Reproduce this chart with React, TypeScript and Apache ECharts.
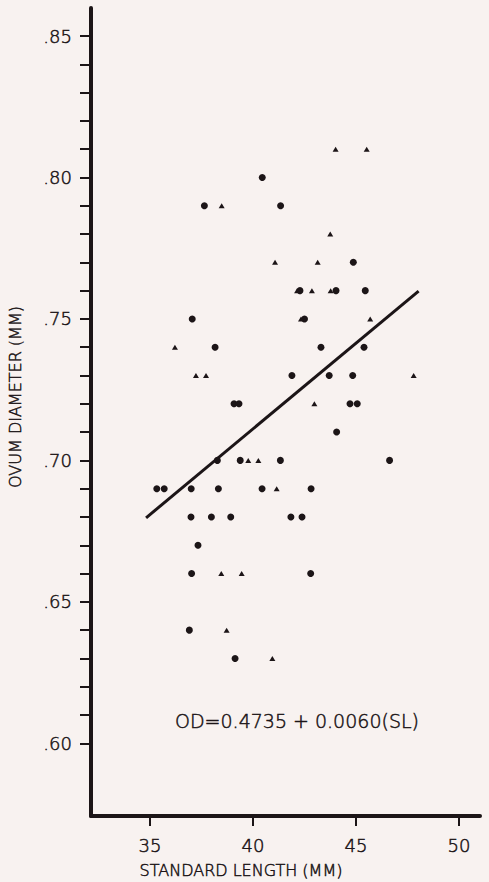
import React, { useEffect, useRef } from "react";
import * as echarts from "echarts";

// Circles (●): [standard length, ovum diameter]
const circlePoints: [number, number][] = [
  [40.45, 0.80],
  [37.64, 0.79], [41.34, 0.79],
  [44.87, 0.77],
  [42.28, 0.76], [44.03, 0.76], [45.45, 0.76],
  [37.05, 0.75], [42.50, 0.75],
  [38.16, 0.74], [43.30, 0.74], [45.39, 0.74],
  [41.89, 0.73], [43.70, 0.73], [44.84, 0.73],
  [39.08, 0.72], [39.32, 0.72], [44.71, 0.72], [45.06, 0.72],
  [44.06, 0.71],
  [38.27, 0.70], [39.38, 0.70], [41.33, 0.70], [46.63, 0.70],
  [35.33, 0.69], [35.69, 0.69], [37.00, 0.69], [38.32, 0.69], [40.44, 0.69], [42.82, 0.69],
  [36.99, 0.68], [37.98, 0.68], [38.92, 0.68], [41.84, 0.68], [42.38, 0.68],
  [37.33, 0.67],
  [37.02, 0.66], [42.80, 0.66],
  [36.91, 0.64],
  [39.13, 0.63],
];

// Triangles (▲)
const trianglePoints: [number, number][] = [
  [44.01, 0.81], [45.52, 0.81],
  [38.48, 0.79],
  [43.75, 0.78],
  [41.07, 0.77], [43.14, 0.77],
  [42.14, 0.76], [42.86, 0.76], [43.77, 0.76],
  [42.33, 0.75], [45.69, 0.75],
  [36.21, 0.74],
  [37.23, 0.73], [37.72, 0.73], [47.80, 0.73],
  [42.98, 0.72],
  [39.77, 0.70], [40.26, 0.70],
  [41.15, 0.69],
  [38.46, 0.66], [39.45, 0.66],
  [38.72, 0.64],
  [40.94, 0.63],
];

// Regression line end points
const regressionLine: [number, number][] = [
  [34.81, 0.6797],
  [48.04, 0.7598],
];

const xLabelValues = [35, 40, 45, 50];
const yLabelValues = [0.6, 0.65, 0.7, 0.75, 0.8, 0.85];
const yTickValues: number[] = [];
for (let i = 60; i <= 85; i++) yTickValues.push(i / 100);

const xTitle = "STANDARD LENGTH (MM)";
const yTitle = "OVUM DIAMETER (MM)";
const equationText = "OD=0.4735 + 0.0060(SL)";

const INK = "#1c1517";
const BG = "#f8f2f0";
const FONT = "'DejaVu Sans', Lato, sans-serif";

export default function App() {
  const ref = useRef<HTMLDivElement>(null);
  useEffect(() => {
    if (!ref.current) return;
    const chart = echarts.init(ref.current, undefined, { renderer: "svg" });
    const labelStyle = {
      color: INK,
      fontFamily: FONT,
      fontWeight: 300,
      fontSize: 18,
      textBorderColor: INK,
      textBorderWidth: 0.5,
    };
    chart.setOption({
      animation: false,
      backgroundColor: BG,
      grid: {
        left: 91,
        right: 9,
        top: 8,
        bottom: 66,
        containLabel: false,
        outerBoundsMode: "none",
      },
      xAxis: {
        type: "value",
        min: 32.136,
        max: 51.02,
        axisLine: { show: true, onZero: false, lineStyle: { color: INK, width: 4 } },
        axisTick: {
          show: true,
          customValues: xLabelValues,
          length: 10,
          lineStyle: { color: INK, width: 2 },
        },
        axisLabel: {
          show: true,
          customValues: xLabelValues,
          margin: 20,
          ...labelStyle,
        },
        splitLine: { show: false },
      },
      yAxis: {
        type: "value",
        min: 0.5743,
        max: 0.8599,
        axisLine: { show: true, onZero: false, lineStyle: { color: INK, width: 4 } },
        axisTick: {
          show: true,
          customValues: yTickValues,
          length: 11,
          lineStyle: { color: INK, width: 2 },
        },
        axisLabel: {
          show: true,
          customValues: yLabelValues,
          margin: 19,
          ...labelStyle,
          formatter: (v: number) => v.toFixed(2).replace(/^0/, ""),
        },
        splitLine: { show: false },
      },
      graphic: [
        {
          type: "text",
          x: 241,
          y: 870,
          style: {
            text: xTitle,
            fill: INK,
            stroke: INK,
            lineWidth: 0.5,
            font: `300 16px ${FONT}`,
            textAlign: "center",
            textVerticalAlign: "middle",
          },
        },
        {
          type: "text",
          x: 15,
          y: 397,
          rotation: Math.PI / 2,
          style: {
            text: yTitle,
            fill: INK,
            stroke: INK,
            lineWidth: 0.5,
            font: `300 16px ${FONT}`,
            textAlign: "center",
            textVerticalAlign: "middle",
          },
        },
        {
          type: "text",
          x: 175,
          y: 721,
          style: {
            text: equationText,
            fill: INK,
            stroke: INK,
            lineWidth: 0.5,
            font: `300 19px ${FONT}`,
            textAlign: "left",
            textVerticalAlign: "middle",
          },
        },
      ],
      series: [
        {
          type: "scatter",
          data: circlePoints,
          symbol: "circle",
          symbolSize: 7,
          itemStyle: { color: INK, opacity: 1 },
        },
        {
          type: "scatter",
          data: trianglePoints,
          symbol: "triangle",
          symbolSize: [6, 5],
          itemStyle: { color: INK, opacity: 1 },
        },
        {
          type: "line",
          data: regressionLine,
          symbol: "none",
          lineStyle: { color: INK, width: 3 },
        },
      ],
    });
    return () => chart.dispose();
  }, []);
  return (
    <div
      ref={ref}
      style={{ position: "fixed", left: 0, top: 0, width: 489, height: 882, background: BG }}
    />
  );
}
